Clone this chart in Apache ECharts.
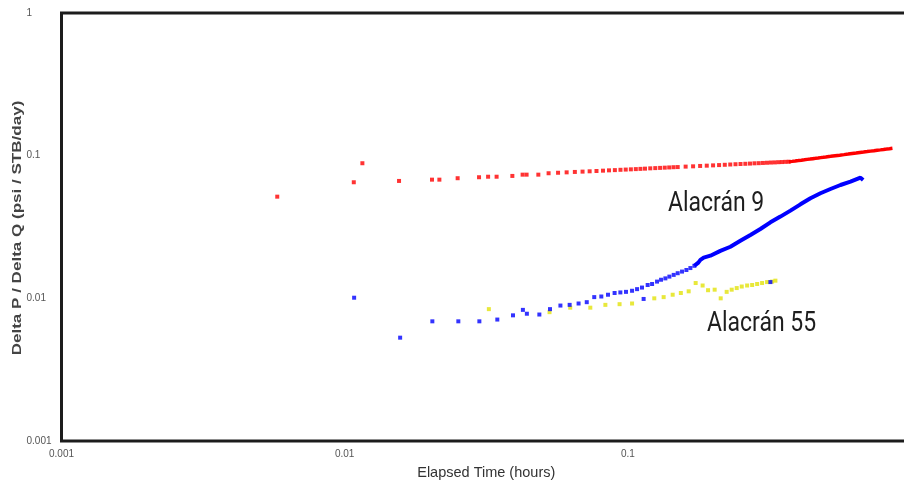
<!DOCTYPE html>
<html>
<head>
<meta charset="utf-8">
<script src="https://cdn.jsdelivr.net/npm/echarts@6/dist/echarts.min.js"></script>
<style>
html,body{margin:0;padding:0;background:#fff;}
#chart{width:904px;height:483px;}
</style>
</head>
<body>
<div id="chart"></div>
<script>
// ---- Data ----
const xTickLabels = ['0.001', '0.01', '0.1', '1'];
const yTickLabels = ['0.001', '0.01', '0.1', '1'];

// Red series (upper curve), sparse dotted part
const redTime = [0.00578,0.01077,0.01155,0.01556,0.02034,0.0216,0.02506,0.02982,0.0321,0.0344,0.0391,0.0425,0.0439,0.0483,0.0525,0.0567,0.0608,0.065,0.0692,0.0733,0.0775,0.0817,0.0858,0.09,0.0942,0.0983,0.1025,0.1067,0.1108,0.115,0.12,0.125,0.13,0.135,0.14,0.145,0.15,0.16,0.17,0.18,0.19,0.2,0.21,0.22,0.23,0.24,0.25,0.26,0.27,0.28,0.29,0.30,0.31,0.32,0.33,0.34,0.35,0.36,0.37];
const redDp = [0.0516,0.0651,0.0885,0.0665,0.0679,0.0679,0.0695,0.0706,0.0712,0.0712,0.0721,0.0736,0.0736,0.0736,0.0753,0.0759,0.0764,0.0769,0.0773,0.0777,0.0781,0.0785,0.0789,0.0792,0.0796,0.0799,0.0802,0.0805,0.0808,0.0811,0.0815,0.0818,0.0821,0.0824,0.0827,0.0830,0.0832,0.0838,0.0842,0.0847,0.0851,0.0855,0.0859,0.0863,0.0867,0.0871,0.0874,0.0877,0.0880,0.0884,0.0886,0.0889,0.0892,0.0895,0.0897,0.0900,0.0902,0.0905,0.0907];
// Red series, dense (continuous) tail
const redTailTime = [0.37,0.38,0.39,0.40,0.41,0.42,0.43,0.44,0.45,0.46,0.47,0.48,0.49,0.50,0.52,0.54,0.56,0.58,0.60,0.62,0.64,0.66,0.68,0.70,0.72,0.74,0.76,0.78,0.80,0.82,0.84,0.86];
const redTailDp = [0.0907,0.0912,0.0918,0.0924,0.0930,0.0936,0.0942,0.0947,0.0953,0.0958,0.0963,0.0969,0.0974,0.0979,0.0989,0.0999,0.1008,0.1017,0.1026,0.1035,0.1043,0.1052,0.1060,0.1068,0.1076,0.1083,0.1091,0.1098,0.1105,0.1112,0.1119,0.1126];

// Blue series (Alacrán 9), sparse part
const blueTime = [0.0108,0.0157,0.0204,0.0252,0.0299,0.0346,0.0393,0.0426,0.0440,0.0487,0.0531,0.0578,0.0623,0.0670,0.0716,0.0761,0.0806,0.0851,0.0898,0.0941,0.0985,0.1035,0.1078,0.1122,0.1137,0.1175,0.1218,0.1268,0.1310,0.1357,0.1402,0.1452,0.1500,0.1554,0.1610,0.1663,0.1718,0.3188];
const blueDp = [0.0101,0.0053,0.0069,0.0069,0.0069,0.0071,0.0076,0.0083,0.0078,0.0077,0.0084,0.0089,0.0090,0.0092,0.0094,0.0102,0.0103,0.0106,0.0109,0.0110,0.0111,0.0113,0.0116,0.0119,0.0099,0.0124,0.0126,0.0131,0.0135,0.0138,0.0142,0.0146,0.0150,0.0154,0.0158,0.0163,0.0169,0.0130];
// Blue series, dense tail
const blueTailTime = [0.1718,0.1774,0.1804,0.1853,0.1957,0.2122,0.2303,0.2497,0.2710,0.2938,0.3188,0.3458,0.3752,0.4070,0.4415,0.4789,0.5195,0.5636,0.6113,0.6632,0.6778];
const blueTailDp = [0.0169,0.0178,0.0186,0.0193,0.0199,0.0215,0.0230,0.0253,0.0278,0.0306,0.0341,0.0374,0.0412,0.0456,0.0503,0.0545,0.0584,0.0623,0.0657,0.0701,0.0676];

// Yellow series (Alacrán 55)
const yellowTime = [0.0323,0.0529,0.0626,0.0737,0.0833,0.0935,0.1035,0.1240,0.1338,0.1440,0.1539,0.1640,0.1736,0.1837,0.1920,0.2026,0.2128,0.2234,0.2327,0.2424,0.2525,0.2638,0.2748,0.2862,0.2979,0.3103,0.3232,0.3320];
const yellowDp = [0.0084,0.0080,0.0086,0.0086,0.0090,0.0091,0.0092,0.0100,0.0102,0.0106,0.0109,0.0112,0.0128,0.0123,0.0114,0.0115,0.0100,0.0111,0.0115,0.0118,0.0121,0.0123,0.0124,0.0126,0.0128,0.0130,0.0131,0.0133];

const labels = ['Alacrán 9', 'Alacrán 55'];
const yAxisTitle = 'Delta P / Delta Q (psi / STB/day)';
const xAxisTitle = 'Elapsed Time (hours)';

// ---- Build chart ----
function zip(a, b) { return a.map((v, i) => [v, b[i]]); }
function tickFmt(arr) {
  return function (v) {
    const i = Math.round(Math.log10(v) + 3);
    return arr[i] !== undefined ? arr[i] : '';
  };
}

const chart = echarts.init(document.getElementById('chart'), null, { renderer: 'canvas' });
const RED = '#ff0000', BLUE = '#0000ff', YEL = '#e2e20a';
const dotStyle = { symbol: 'rect', symbolSize: 4 };

chart.setOption({
  animation: false,
  backgroundColor: '#ffffff',
  grid: {
    left: 61.5, top: 13, bottom: 42, right: -7,
    outerBoundsMode: 'none', containLabel: false,
    show: true, borderColor: '#1c1c1c', borderWidth: 3, backgroundColor: 'transparent'
  },
  xAxis: {
    type: 'log', logBase: 10, min: 0.001, max: 1,
    name: xAxisTitle, nameLocation: 'middle', nameGap: 24,
    nameTextStyle: { fontFamily: 'Liberation Sans', fontSize: 14.5, color: '#333' },
    axisLine: { show: false }, axisTick: { show: false }, splitLine: { show: false },
    axisLabel: { formatter: tickFmt(xTickLabels), fontFamily: 'Liberation Sans', fontSize: 10, color: '#555', margin: 8 }
  },
  yAxis: {
    type: 'log', logBase: 10, min: 0.001, max: 1,
    axisLine: { show: false }, axisTick: { show: false }, splitLine: { show: false },
    axisLabel: { formatter: tickFmt(yTickLabels), fontFamily: 'Liberation Sans', fontSize: 10, color: '#555', align: 'left', margin: 35 }
  },
  series: [
    Object.assign({ type: 'scatter', data: zip(redTime, redDp), itemStyle: { color: RED } }, dotStyle),
    { type: 'line', data: zip(redTailTime, redTailDp), showSymbol: false, lineStyle: { color: RED, width: 3.5 } },
    Object.assign({ type: 'scatter', data: zip(yellowTime, yellowDp), itemStyle: { color: YEL } }, dotStyle),
    Object.assign({ type: 'scatter', data: zip(blueTime, blueDp), itemStyle: { color: BLUE } }, dotStyle),
    { type: 'line', data: zip(blueTailTime, blueTailDp), showSymbol: false, lineStyle: { color: BLUE, width: 4 } }
  ],
  graphic: [
    { type: 'text', x: 17.5, y: 228, rotation: Math.PI / 2, scaleX: 1.42,
      style: { text: yAxisTitle, font: 'bold 12px "Liberation Sans"', fill: '#444', align: 'center', verticalAlign: 'middle' } },
    { type: 'text', x: 668, y: 190, scaleX: 0.82, style: { text: labels[0], font: '28px Roboto', fill: '#1e1e1e', verticalAlign: 'top' } },
    { type: 'text', x: 707, y: 310, scaleX: 0.82, style: { text: labels[1], font: '28px Roboto', fill: '#1e1e1e', verticalAlign: 'top' } }
  ]
});
</script>
</body>
</html>
